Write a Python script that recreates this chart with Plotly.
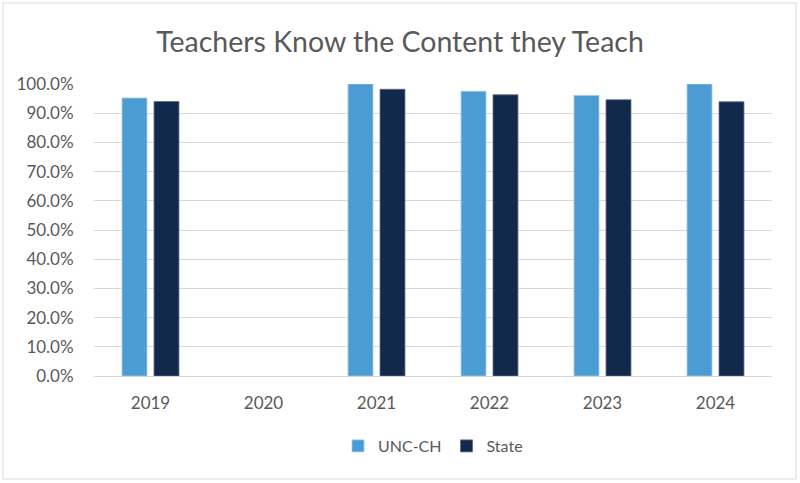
import plotly.graph_objects as go

years = ["2019", "2020", "2021", "2022", "2023", "2024"]
unc_ch = [0.952, None, 1.000, 0.975, 0.961, 1.000]
state = [0.940, None, 0.982, 0.963, 0.946, 0.939]
y_ticks = [0, 0.1, 0.2, 0.3, 0.4, 0.5, 0.6, 0.7, 0.8, 0.9, 1.0]

UNC_COLOR = "#4B9CD3"
STATE_COLOR = "#13294B"
TEXT = "#595959"
FONT = "Lato, Calibri, sans-serif"

fig = go.Figure()
fig.add_trace(go.Bar(name="UNC-CH", x=years, y=unc_ch, marker=dict(color=UNC_COLOR, line=dict(width=0.8, color="#9CCBEA"))))
fig.add_trace(go.Bar(name="State", x=years, y=state, marker=dict(color=STATE_COLOR, line=dict(width=0.8, color="#5A6B85"))))

L, R, T, B = 94, 28, 84, 107
W, H = 800, 483
pw, ph = W - L - R, H - T - B

fig.update_layout(
    width=W, height=H,
    margin=dict(l=L, r=R, t=T, b=B, pad=0, autoexpand=False),
    paper_bgcolor="white", plot_bgcolor="white",
    barmode="group", bargap=0.434, bargroupgap=0.22,
    font=dict(family=FONT, color=TEXT, size=17),
    title=dict(text="Teachers Know the Content they Teach", x=0.5, xanchor="center",
               y=1 - 42 / H, yanchor="middle", font=dict(size=28.5, color=TEXT, family=FONT)),
    legend=dict(orientation="h", x=0.5, xanchor="center", y=(T + ph - 446) / ph, yanchor="middle",
                font=dict(size=16, color=TEXT), itemwidth=30, tracegroupgap=0, traceorder="normal"),
    showlegend=True,
    xaxis=dict(type="category", showgrid=False, showline=False, ticks="outside", ticklen=12,
               tickcolor="rgba(0,0,0,0)", tickfont=dict(size=17, color=TEXT)),
    yaxis=dict(range=[0, 1.0], tickvals=y_ticks, tickformat=".1%", showgrid=True,
               gridcolor="#D9D9D9", gridwidth=1, zeroline=True, zerolinecolor="#D9D9D9",
               zerolinewidth=1, showline=False, ticks="outside", ticklen=16,
               tickcolor="rgba(0,0,0,0)", tickfont=dict(size=17, color=TEXT)),
    shapes=[dict(type="rect", xref="paper", yref="paper",
                 x0=(3 - L) / pw, x1=(796 - L) / pw,
                 y0=(T + ph - 479) / ph, y1=(T + ph - 3) / ph,
                 line=dict(color="#D9D9D9", width=1), fillcolor="rgba(0,0,0,0)", layer="below")],
)

fig.write_html("out.html", config={"displayModeBar": False},
               post_script="document.body.style.margin='0';document.body.style.overflow='hidden';")
